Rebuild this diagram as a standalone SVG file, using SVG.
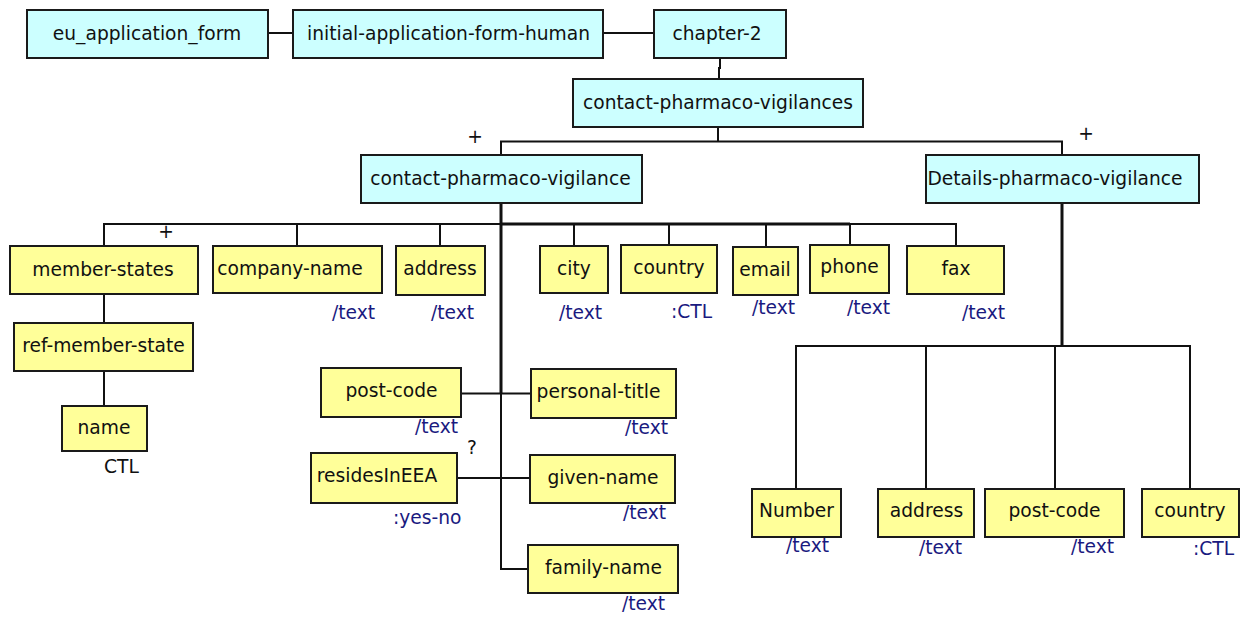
<svg xmlns="http://www.w3.org/2000/svg" width="1246" height="617" viewBox="0 0 1246 617">
<style>
.c{fill:#ccffff;stroke:#1a1a1a;stroke-width:2}
.y{fill:#ffff99;stroke:#1a1a1a;stroke-width:2}
.t{font-family:"DejaVu Sans",Verdana,sans-serif;font-size:18.67px;fill:#111;text-anchor:middle}
.a{font-family:"DejaVu Sans",Verdana,sans-serif;font-size:18.67px;fill:#1a1a80}
.k{font-family:"DejaVu Sans",Verdana,sans-serif;font-size:18.67px;fill:#111}
.l{fill:none;stroke:#111;stroke-width:2}
.L{fill:none;stroke:#111;stroke-width:3}
</style>
<rect width="1246" height="617" fill="#fff"/>
<g id="connectors">
<path class="l" d="M268 33H293M603 33H654M720 58V68H719V79"/>
<path class="l" d="M718 127V141.5M501 155V141.5H1062V155"/>
<path class="L" d="M501 203V394"/>
<path class="l" d="M501 394V569H528"/>
<path class="l" d="M104 246V224H501"/>
<path class="L" d="M501 224H850"/>
<path class="l" d="M850 224H956V246M297 224V246M440 224V246M574 224V246M669 224V246M766 224V247M850 224V245"/>
<path class="l" d="M461 393.5H531M457 478H530"/>
<path class="l" d="M104 294V323M104 371V406"/>
<path class="L" d="M1062 203V346"/>
<path class="l" d="M796 489V346H1190V489M926 346V489M1055 346V489"/>
</g>
<g id="eu_application_form"><rect class="c" x="27" y="10" width="241" height="48"/><text class="t" x="147" y="39.5">eu_application_form</text></g>
<g id="initial-application-form-human"><rect class="c" x="293" y="10" width="310" height="48"/><text class="t" x="448.5" y="39.5">initial-application-form-human</text></g>
<g id="chapter-2"><rect class="c" x="654" y="10" width="132" height="48"/><text class="t" x="717" y="39.5">chapter-2</text></g>
<g id="contact-pharmaco-vigilances"><rect class="c" x="573" y="79" width="290" height="48"/><text class="t" x="718" y="108.5">contact-pharmaco-vigilances</text></g>
<g id="contact-pharmaco-vigilance"><rect class="c" x="361" y="155" width="281" height="48"/><text class="t" x="500.5" y="184.5">contact-pharmaco-vigilance</text><text class="k" x="475" y="143" text-anchor="middle">+</text></g>
<g id="Details-pharmaco-vigilance"><rect class="c" x="926" y="155" width="273" height="48"/><text class="t" x="1055" y="184.5">Details-pharmaco-vigilance</text><text class="k" x="1086" y="139.5" text-anchor="middle">+</text></g>
<g id="member-states"><rect class="y" x="10" y="246" width="188" height="48"/><text class="t" x="103" y="275.5">member-states</text><text class="k" x="166" y="238" text-anchor="middle">+</text></g>
<g id="company-name"><rect class="y" x="213" y="246" width="169" height="47"/><text class="t" x="290" y="275">company-name</text><text class="a" x="332" y="319">/text</text></g>
<g id="address"><rect class="y" x="396" y="246" width="89" height="49"/><text class="t" x="440" y="275">address</text><text class="a" x="431" y="319">/text</text></g>
<g id="city"><rect class="y" x="540" y="246" width="68" height="47"/><text class="t" x="574" y="275">city</text><text class="a" x="559" y="319">/text</text></g>
<g id="country"><rect class="y" x="621" y="245" width="96" height="48"/><text class="t" x="669" y="274">country</text><text class="a" x="671" y="318">:CTL</text></g>
<g id="email"><rect class="y" x="733" y="247" width="65" height="48"/><text class="t" x="765" y="276">email</text><text class="a" x="752" y="314">/text</text></g>
<g id="phone"><rect class="y" x="810" y="245" width="79" height="48"/><text class="t" x="849.5" y="273">phone</text><text class="a" x="847" y="314">/text</text></g>
<g id="fax"><rect class="y" x="907" y="246" width="97" height="48"/><text class="t" x="956" y="275">fax</text><text class="a" x="962" y="319">/text</text></g>
<g id="ref-member-state"><rect class="y" x="14" y="323" width="179" height="48"/><text class="t" x="103.5" y="352">ref-member-state</text></g>
<g id="name"><rect class="y" x="62" y="406" width="85" height="45"/><text class="t" x="104" y="434">name</text><text class="k" x="104" y="473">CTL</text></g>
<g id="post-code"><rect class="y" x="321" y="368" width="140" height="49"/><text class="t" x="391.5" y="397">post-code</text><text class="a" x="415" y="433">/text</text></g>
<g id="personal-title"><rect class="y" x="531" y="369" width="145" height="49"/><text class="t" x="598.5" y="398">personal-title</text><text class="a" x="625" y="434">/text</text></g>
<g id="residesInEEA"><rect class="y" x="311" y="453" width="146" height="50"/><text class="t" x="377" y="482">residesInEEA</text><text class="a" x="393" y="524">:yes-no</text><text class="k" x="472" y="454" text-anchor="middle">?</text></g>
<g id="given-name"><rect class="y" x="530" y="455" width="145" height="48"/><text class="t" x="603" y="484">given-name</text><text class="a" x="623" y="519">/text</text></g>
<g id="family-name"><rect class="y" x="528" y="545" width="150" height="48"/><text class="t" x="603.5" y="574">family-name</text><text class="a" x="622" y="610">/text</text></g>
<g id="Number"><rect class="y" x="752" y="489" width="89" height="48"/><text class="t" x="796.5" y="517">Number</text><text class="a" x="786" y="552">/text</text></g>
<g id="address-2"><rect class="y" x="878" y="489" width="96" height="48"/><text class="t" x="926.5" y="517">address</text><text class="a" x="919" y="554">/text</text></g>
<g id="post-code-2"><rect class="y" x="985" y="489" width="139" height="48"/><text class="t" x="1054.5" y="517">post-code</text><text class="a" x="1071" y="553">/text</text></g>
<g id="country-2"><rect class="y" x="1142" y="489" width="97" height="48"/><text class="t" x="1190" y="517">country</text><text class="a" x="1193" y="555">:CTL</text></g>
</svg>
